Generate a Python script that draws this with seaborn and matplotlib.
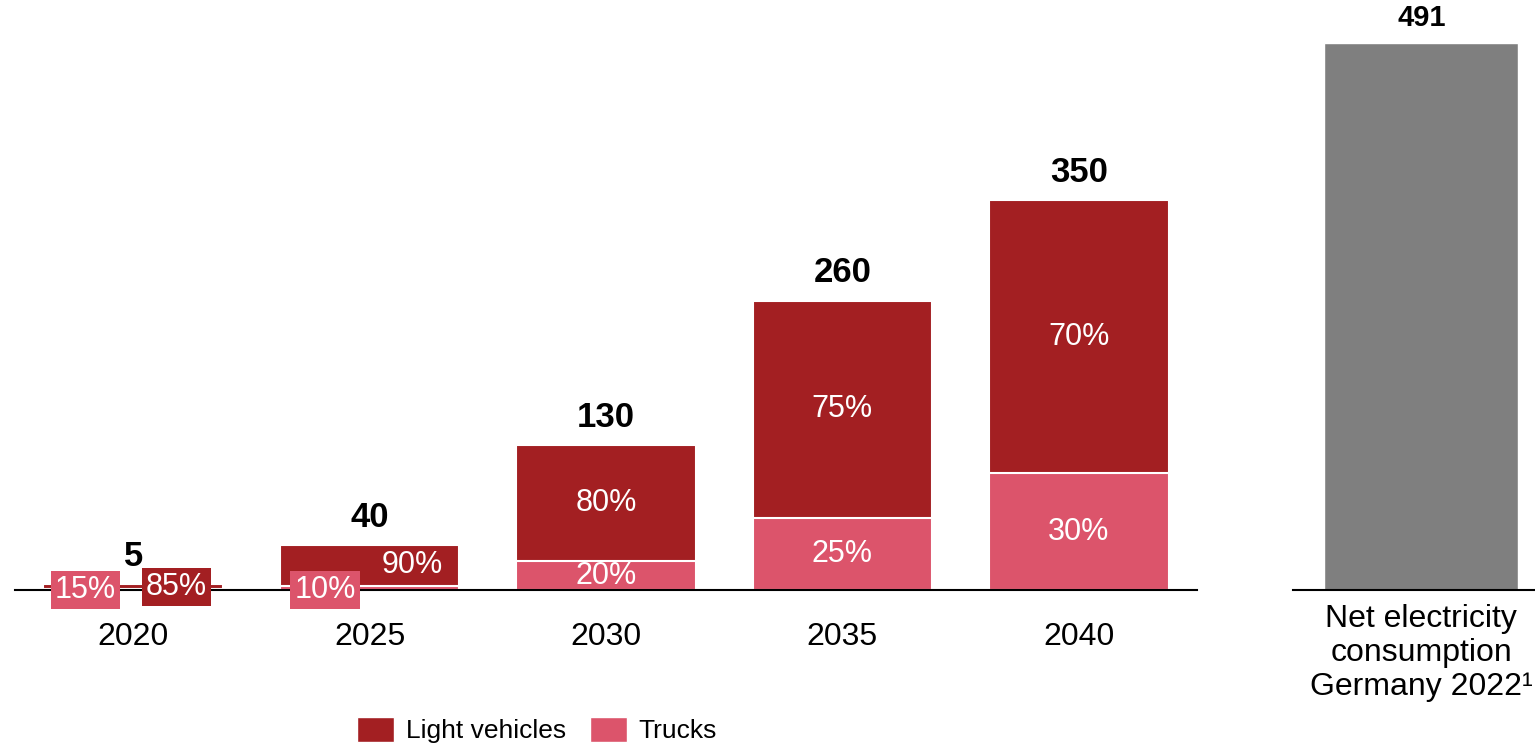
import numpy as np
import pandas as pd
import seaborn as sns
import matplotlib.pyplot as plt
from matplotlib import font_manager
from matplotlib.patches import Patch

# ---- data ----
years = ["2020", "2025", "2030", "2035", "2040"]
totals = [5, 40, 130, 260, 350]
truck_share = [15, 10, 20, 25, 30]
light_share = [85, 90, 80, 75, 70]
ref_label = "Net electricity\nconsumption\nGermany 2022¹"
ref_value = [491]

c_light = "#A31F22"
c_truck = "#DC546B"
c_grey = "#7F7F7F"

sns.set_theme(style="white")
font_manager.findfont("Liberation Sans", fallback_to_default=False)
plt.rcParams["font.family"] = ["Liberation Sans", "DejaVu Sans"]
plt.rcParams["text.color"] = "black"
plt.rcParams["xtick.color"] = "black"

df = pd.DataFrame({"year": years, "total": totals,
                   "trucks": np.array(totals) * np.array(truck_share) / 100})

fig = plt.figure(figsize=(15.35, 7.44), dpi=100)
W, H = 1535, 744
ax = fig.add_axes([15 / W, 154 / H, (1197 - 15) / W, 590 / H])
ax2 = fig.add_axes([1293 / W, 154 / H, (1535 - 1293) / W, 590 / H])

# stacked bars: full total in dark red, trucks share on top of it
sns.barplot(data=df, x="year", y="total", color=c_light, width=0.76,
            saturation=1, edgecolor="white", linewidth=1.5, ax=ax)
sns.barplot(data=df, x="year", y="trucks", color=c_truck, width=0.76,
            saturation=1, edgecolor="white", linewidth=1.5, ax=ax)

ax.set_ylim(0, 530)
ax.set_xlim(-0.5, 4.5)

fs = 22
for i in range(len(years)):
    tot, tr = totals[i], df["trucks"][i]
    ax.annotate(str(tot), (i, tot), xytext=(0, 8), textcoords="offset points",
                ha="center", va="bottom", fontsize=25, fontweight="bold")
    if tot >= 100:
        ax.text(i, tr / 2, f"{truck_share[i]}%", ha="center", va="center",
                color="white", fontsize=fs)
        ax.text(i, tr + (tot - tr) / 2, f"{light_share[i]}%", ha="center",
                va="center", color="white", fontsize=fs)

# small bars: labels in coloured boxes beside / over the bar
box_t = dict(boxstyle="square,pad=0.13", fc=c_truck, ec="none")
box_l = dict(boxstyle="square,pad=0.13", fc=c_light, ec="none")
ax.annotate(f"{truck_share[0]}%", (0, 0), xytext=(-34.5, 0), textcoords="offset points",
            ha="center", va="center", color="white", fontsize=fs, bbox=box_t,
            annotation_clip=False)
ax.annotate(f"{light_share[0]}%", (0, 0), xytext=(31, 2), textcoords="offset points",
            ha="center", va="center", color="white", fontsize=fs, bbox=box_l,
            annotation_clip=False)
ax.annotate(f"{truck_share[1]}%", (1, 0), xytext=(-32, 0), textcoords="offset points",
            ha="center", va="center", color="white", fontsize=fs, bbox=box_t,
            annotation_clip=False)
ax.annotate(f"{light_share[1]}%", (1, totals[1]), xytext=(31, -14), textcoords="offset points",
            ha="center", va="center", color="white", fontsize=fs)

# reference bar
sns.barplot(x=[ref_label], y=ref_value, color=c_grey, saturation=1, width=0.8, ax=ax2)
ax2.set_ylim(0, 530)
ax2.set_xlim(-0.53, 0.47)
ax2.annotate(str(ref_value[0]), (0, ref_value[0]), xytext=(0, 8), textcoords="offset points",
             ha="center", va="bottom", fontsize=21, fontweight="bold")

for a in (ax, ax2):
    a.set_xlabel("")
    a.set_ylabel("")
    a.set_yticks([])
    for s in ("top", "right", "left"):
        a.spines[s].set_visible(False)
    a.spines["bottom"].set_color("black")
    a.spines["bottom"].set_linewidth(1.5)
    a.tick_params(axis="x", length=0, labelsize=23)
    a.set_facecolor("none")

ax.tick_params(axis="x", pad=23)
ax2.tick_params(axis="x", pad=10)
for t in ax2.get_xticklabels():
    t.set_linespacing(1.17)

handles = [Patch(facecolor=c_light, label="Light vehicles"),
           Patch(facecolor=c_truck, label="Trucks")]
fig.legend(handles=handles, loc="center", bbox_to_anchor=(537 / W, 1 - 730 / H),
           ncol=2, frameon=False, fontsize=19, handlelength=1.4, handleheight=1.1,
           columnspacing=0.9, handletextpad=0.45, borderpad=0.2)

fig.savefig("out.png", dpi=100)
